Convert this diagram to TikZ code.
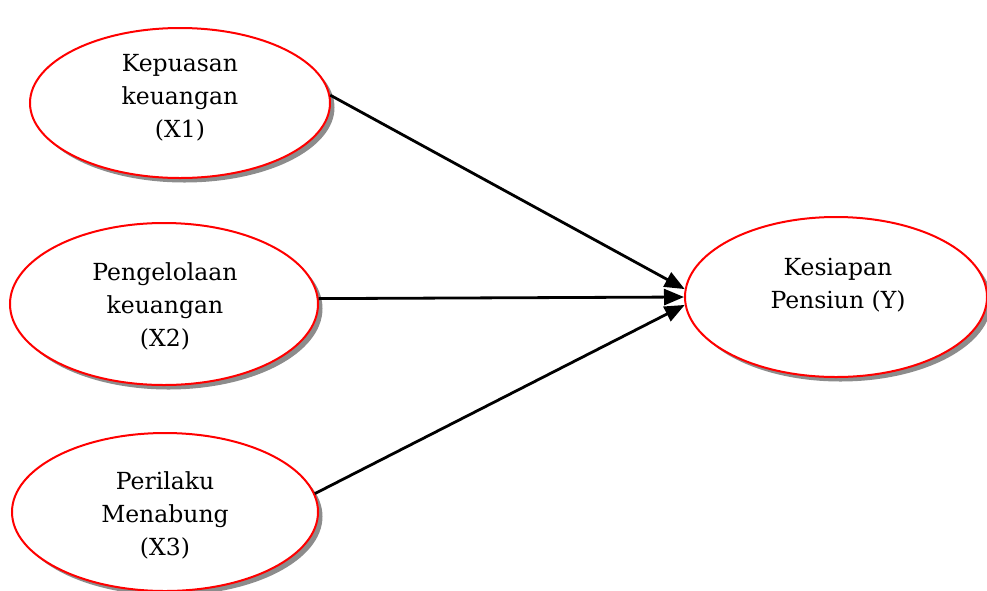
\documentclass[tikz,border=0pt]{standalone}
\usepackage{fontspec}
\setmainfont{DejaVu Serif}
\usetikzlibrary{shapes.geometric,shadows,arrows.meta}
\begin{document}
\begin{tikzpicture}[x=1pt,y=-1pt,
  var/.style={ellipse,draw=red,line width=2pt,fill=white,inner sep=0pt,
    drop shadow={shadow xshift=4.5pt,shadow yshift=-4.5pt,fill=black!45,opacity=1}},
  lbl/.style={align=center,font=\fontsize{23.5}{33}\selectfont,inner sep=0pt},
  path/.style={line width=2.8pt,-{Triangle[length=20pt,width=16pt]}}]
\useasboundingbox (0,0) rectangle (987,590);
\node[var,minimum width=300pt,minimum height=150pt] (e1) at (180,103) {};
\node[var,minimum width=308pt,minimum height=162pt] (e2) at (164,304) {};
\node[var,minimum width=306pt,minimum height=158pt] (e3) at (165,512) {};
\node[var,minimum width=302pt,minimum height=160pt] (ey) at (836,297) {};
\node[lbl] (t1) at (180,98) {Kepuasan\\keuangan\\(X1)};
\node[lbl] (t2) at (165,306) {Pengelolaan\\keuangan\\(X2)};
\node[lbl] (t3) at (165,515) {Perilaku\\Menabung\\(X3)};
\node[lbl] (ty) at (838,285) {Kesiapan\\Pensiun (Y)};
\draw[path] (e1.3) -- (ey.177);
\draw[path] (e2.2) -- (ey.180);
\draw[path] (e3.7) -- (ey.183);
\end{tikzpicture}
\end{document}
